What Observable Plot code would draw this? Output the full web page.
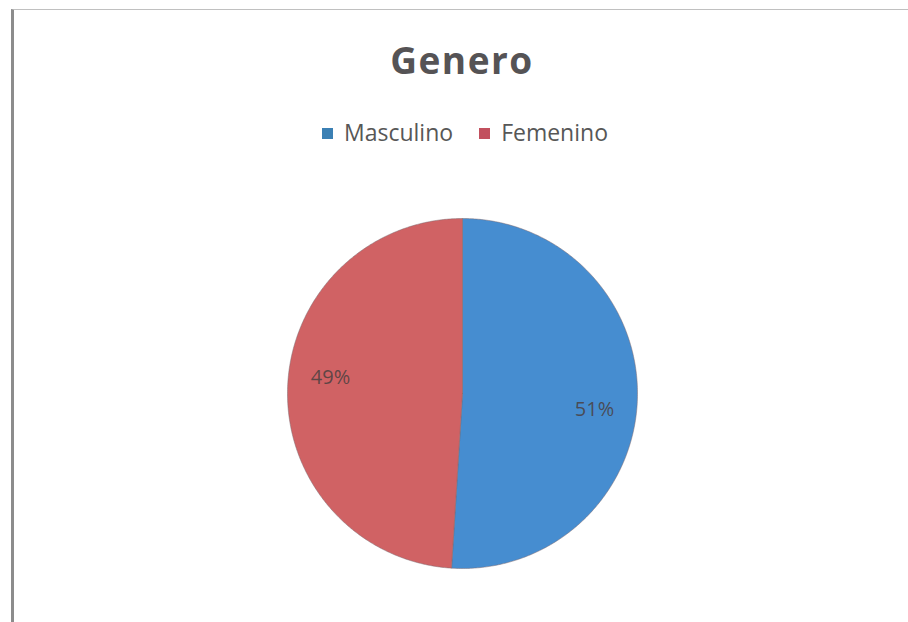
<!DOCTYPE html>
<html>
<head>
<meta charset="utf-8">
<script src="https://cdn.jsdelivr.net/npm/d3@7"></script>
<script src="https://cdn.jsdelivr.net/npm/@observablehq/plot@0.6"></script>
<style>
  html, body { margin: 0; padding: 0; background: #ffffff; }
  #page { position: relative; width: 908px; height: 622px; overflow: hidden; background: #fff; font-family: "Open Sans", sans-serif; }
  #frame { position: absolute; left: 11px; top: 9px; width: 1000px; height: 700px; border-left: 3px solid #8c8c8c; border-top: 1px solid #c0c0c0; }
  #title { position: absolute; left: 0; width: 924px; top: 34px; text-align: center; font-size: 37px; font-weight: 700; color: #555355; letter-spacing: 1.5px; }
  #legend { position: absolute; left: 0; width: 930px; top: 116px; display: flex; justify-content: center; font-size: 23px; color: #575757; }
  .item { display: flex; align-items: center; gap: 11px; }
  .sw { width: 11px; height: 11px; display: inline-block; margin-top: 2px; }
  #chart { position: absolute; left: 0; top: 0; }
</style>
</head>
<body>
<div id="page">
  <div id="frame"></div>
  <div id="title"></div>
  <div id="legend"></div>
  <div id="chart"></div>
</div>
<script>
const title = "Genero";
const categories = ["Masculino", "Femenino"];
const values = [51, 49];
const colors = ["#468dd0", "#d06264"];
const legendColors = ["#3b80b4", "#c2505e"];

const data = categories.map((name, i) => ({name, value: values[i]}));
const arcs = d3.pie().sort(null).value(d => d.value)(data);

// Build slice outlines from pie angles (clockwise from 12 o'clock, y up)
const pts = [];
arcs.forEach(a => {
  const name = a.data.name;
  pts.push({name, x: 0, y: 0});
  const n = Math.max(2, Math.ceil((a.endAngle - a.startAngle) / 0.01));
  for (let k = 0; k <= n; k++) {
    const t = a.startAngle + (a.endAngle - a.startAngle) * k / n;
    pts.push({name, x: Math.sin(t), y: Math.cos(t)});
  }
  pts.push({name, x: 0, y: 0});
});

const labelR = 0.76, labelTurn = 0.09;
const labels = arcs.map(a => {
  const m = (a.startAngle + a.endAngle) / 2 + labelTurn;
  return {name: a.data.name, text: a.data.value + "%", x: labelR * Math.sin(m), y: labelR * Math.cos(m)};
});

document.getElementById("title").textContent = title;
const leg = document.getElementById("legend");
categories.forEach((c, i) => {
  const it = document.createElement("div");
  it.className = "item";
  if (i > 0) it.style.marginLeft = "26px";
  const sw = document.createElement("span");
  sw.className = "sw";
  sw.style.background = legendColors[i];
  const tx = document.createElement("span");
  tx.textContent = c;
  it.appendChild(sw); it.appendChild(tx);
  leg.appendChild(it);
});

const cx = 462, cy = 393, r = 175;
const chart = Plot.plot({
  width: 908,
  height: 622,
  margin: 0,
  x: {domain: [-1, 1], range: [cx - r, cx + r], axis: null},
  y: {domain: [-1, 1], range: [cy + r, cy - r], axis: null},
  color: {domain: categories, range: colors},
  style: {background: "transparent"},
  marks: [
    Plot.line(pts, {x: "x", y: "y", z: "name", fill: "name", stroke: "#7d6a70", strokeWidth: 1, strokeOpacity: 0.5, curve: "linear"}),
    Plot.text(labels, {x: "x", y: "y", text: "text", fill: "#4a4040", fillOpacity: 0.85, fontSize: 20, fontFamily: "Open Sans, sans-serif"})
  ]
});
document.getElementById("chart").appendChild(chart);
</script>
</body>
</html>
